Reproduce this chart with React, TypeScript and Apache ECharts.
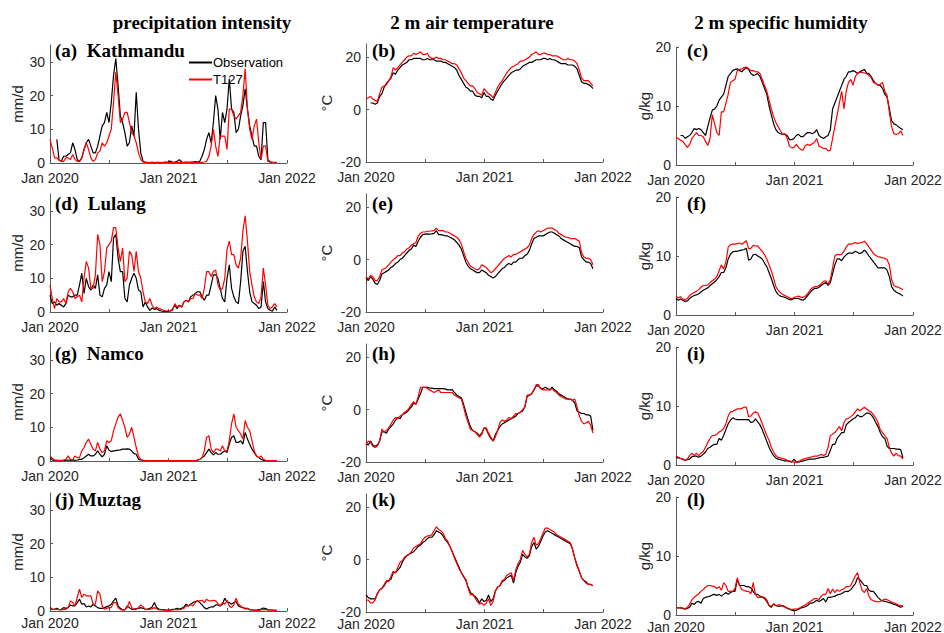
import React, { useEffect, useRef } from 'react';
import * as echarts from 'echarts';

// ---- sampling grid: one value every 7 days from 1 Jan 2020 ----
const DAY_STEP = 7;
const xTickDays = [0, 182, 366, 547, 731];
const xLabelDays = [0, 366, 731];
const xTickLabels = ['Jan 2020', 'Jan 2021', 'Jan 2022'];

const columnTitles = ['precipitation intensity', '2 m air temperature', '2 m specific humidity'];
const yNames = ['mm/d', '°C', 'g/kg'];
const yRanges = [[0, 35], [-20, 25], [0, 20]];
const yTickValues = [[0, 10, 20, 30], [-20, 0, 20], [0, 10, 20]];
const panelLabels = [
  '(a)  Kathmandu', '(b)', '(c)',
  '(d)  Lulang', '(e)', '(f)',
  '(g)  Namco', '(h)', '(i)',
  '(j) Muztag', '(k)', '(l)',
];
const seriesNames = ['Observation', 'T127'];

// ---- Kathmandu ----
const kathPrecipObs = [
  null, null, null, 7, 0.8, 0.5, 2, 2, 2.5, 3,
  6, 4, 1, 0.5, 1.5, 4, 6, 7, 5, 3,
  3, 5, 8, 11, 12, 15, 12, 18, 26, 31,
  23, 14, 12, 9, 5, 6, 11, 8, 21, 10,
  3, 0.5, 0.2, 0.2, 0.1, 0.2, 0.1, 0.2, 0.2, 0.1,
  0.2, 0.3, 0.2, 0.6, 0.2, 0.3, 0.5, 1, 0.3, 0.2,
  0.3, 0.2, 0.3, 0.3, 0.4, 0.3, 0.5, 2, 4, 7,
  9, 6, 12, 20, 16, 7, 15, 12, 16, 25,
  16, 15, 9, 10, 14, 17, 22, 16, 11, 8,
  5, 5, 2, 1, 12, 12, 1, 0.3, 0.2, null,
  null,
];
const kathPrecipT127 = [
  7, 4.5, 1.5, 1.5, 0.8, 0.5, 0.5, 1.5, 1.5, 1,
  2.5, 1, 0.5, 0.5, 1.5, 4, 6, 4, 1.5, 0.5,
  1, 3, 3.5, 6, 5, 6, 8, 10, 18, 27,
  20, 12, 13, 15, 15, 12, 9, 8, 6, 3,
  1, 0.3, 0.2, 0.1, 0.1, 0.2, 0.1, 0.1, 0.1, 0.1,
  0.1, 0.2, 0.1, 0.1, 0.2, 0.1, 0.1, 0.2, 0.1, 0.1,
  0.1, 0.1, 0.1, 0.2, 0.1, 0.1, 0.1, 0.2, 0.3, 0.5,
  2, 5, 10, 5, 2, 8, 8, 8, 4, 16,
  16, 14, 13, 14, 15, 20, 28, 16, 10, 7,
  11, 13, 6, 1, 5, 5, 0.5, 0.3, 0.3, 0.2,
  0.2,
];
const kathTempObs = [
  null, null, 2.5, 2.5, 2, 2.5, 5, 6, 8.5, 10,
  11, 12, 14, 13.5, 15, 16, 17, 17.5, 18, 19,
  19, 19.5, 19.5, 19.5, 19.5, 19, 19, 19.5, 19, 19,
  19, 18.5, 18.5, 18.5, 18, 18, 17.5, 17, 16.5, 16,
  15, 13, 11.5, 10, 8.5, 8, 7, 7, 5.5, 5,
  5, 4.5, 6.5, 5, 5, 4, 3.5, 5.5, 7, 8.5,
  10, 11, 12, 13, 14, 14.5, 15, 15, 15.5, 16.5,
  17, 17.5, 18, 18, 18.5, 19, 19, 19, 19.5, 19.5,
  19, 19.5, 19, 19, 18.5, 18, 17.5, 17.5, 17.5, 17,
  17, 17, 16.5, 15.5, 13, 10.5, 10, 10, 9.5, 9,
  8,
];
const kathTempT127 = [
  4, 4.5, 5, 4, 3.5, 3, 6, 8.5, 9, 9.5,
  11, 12.5, 16, 15, 16, 17, 18, 19, 20, 20.5,
  20.5, 21.5, 21, 21.5, 22, 21, 21, 21.5, 20, 19.5,
  19.5, 20, 19.5, 19.5, 19, 19, 18.5, 18, 17.5, 17.5,
  17, 15.5, 14, 12, 11, 10, 9, 9, 8, 6.5,
  6, 5.5, 8, 7, 6, 5.5, 4.5, 6.5, 8.5, 10,
  11, 12.5, 14, 15, 16, 16.5, 17, 17.5, 18.5, 18.5,
  19, 19.5, 20, 21, 21.5, 22, 21, 21, 21.5, 21.5,
  21, 21, 20.5, 20.5, 20.5, 20, 19.5, 19, 19, 19.5,
  19, 19, 18.5, 17.5, 15, 12, 11, 11, 11, 10,
  9,
];
const kathHumObs = [
  null, null, 5, 5, 4.5, 4.8, 5, 5.5, 6.2, 6,
  6.2, 6, 5.5, 5, 6.5, 8, 9.3, 9.5, 10, 11,
  11.5, 12, 13.5, 15, 15.5, 16, 16.2, 16.3, 16, 15.8,
  16.2, 16.5, 16.2, 15.5, 15.2, 15.3, 15.5, 15, 14, 13,
  12, 10, 8.5, 7, 6, 5.5, 5.3, 5.2, 5.2, 5,
  4.3, 4.3, 4.5, 5, 5.2, 4.8, 4.8, 5.2, 5.5, 5.5,
  5.3, 5.5, 6, 5, 4.7, 4.5, 4.8, 5, 6, 9.5,
  10.5, 11.5, 12.5, 13.5, 14.5, 15, 15.8, 15.8, 16, 15.8,
  15.5, 15.8, 16, 16.2, 15.6, 15.5, 15, 14.3, 13.8, 13.6,
  13.5, 13, 12, 11.5, 9.5, 7.5, 7, 6.8, 6.5, 6.2,
  6,
];
const kathHumT127 = [
  4.6, 4.5, 4.2, 4, 3.5, 3, 3.5, 4.5, 5, 5.5,
  5, 5, 4.8, 4, 3.3, 4.5, 8.5, 7, 5.5, 5,
  9, 9, 10.5, 12, 14, 14.3, 14.5, 16, 16.2, 16.3,
  16.5, 16.6, 16.3, 16, 16, 15.8, 15.8, 15.5, 14.5, 13.5,
  12.5, 11, 9.5, 8.2, 7.2, 6.5, 5.8, 5.2, 5.3, 4.5,
  3.2, 2.9, 3, 3.5, 3, 2.6, 2.5, 3.3, 3.5, 3.3,
  3.6, 3.8, 4.5, 3.2, 3, 2.8, 2.8, 2.4, 2.5, 4.5,
  6.5, 8.5, 10.5, 12.5, 9.5, 12.5, 14, 14.5, 13.5, 15,
  15.5, 15.7, 15.7, 15.6, 15.5, 15.2, 14.8, 14, 13.8, 13.5,
  13.7, 14, 12.5, 11.8, 9, 6.5, 5.3, 5.2, 5.3, 5.8,
  5,
];

// ---- Lulang ----
const lulangPrecipObs = [
  5, 2.5, 3, 2, 2.5, 2, 1.5, 2.5, 5, 4.5,
  4.5, 5, 5, 8, 11.5, 5.5, 10, 7.5, 6.5, 8,
  7, 11, 5, 4.5, 7, 8, 12, 9, 22, 23,
  16, 12, 12, 4, 3, 8, 10, 11.5, 10, 6.5,
  6, 1.5, 3, 1.5, 0.5, 1.2, 0.8, 1, 0.5, 0.3,
  0.2, 0.2, 0.2, 0.3, 0.8, 2, 1, 2, 1.5, 3,
  3.5, 3, 4.5, 5, 5.5, 6, 6, 4.5, 3.5, 5,
  5, 8, 11, 11, 10, 7, 4, 3, 10, 14,
  7, 4.5, 3, 2.5, 9, 18, 19.5, 12, 6, 3,
  2.5, 2, 1, 1.5, 9, 3, 1, 0.5, 0.2, 1.5,
  0.5,
];
const lulangPrecipT127 = [
  8, 4, 1, 4, 3, 3, 4, 2.5, 6, 7,
  6, 4, 4.5, 5, 3, 10, 15, 13, 7, 7,
  11, 23, 20, 9, 12, 19, 20, 21, 25, 25,
  19, 15, 19, 9, 10, 18, 17, 12, 18, 12,
  10, 6, 3, 2.5, 4, 2, 1, 1.5, 1, 0.8,
  0.5, 0.3, 0.3, 0.3, 0.5, 2.5, 1.5, 2, 1.5, 3,
  3.5, 3, 4, 4, 5.5, 5, 5, 4, 7, 12,
  12, 10.5, 12, 12.5, 8, 6.5, 7, 10, 18.5, 21,
  17, 17, 14, 13, 16, 24, 28.5, 21, 12, 8,
  4.5, 3, 2.5, 4.5, 13, 8, 2, 1, 1.5, 2.5,
  1.5,
];
const lulangTempObs = [
  -7, -8, -6.5, -7.5, -9, -9.5, -8, -5.5, -5, -4.5,
  -4, -3, -2.5, -1.5, -1, 0, 0.5, 1.5, 2.5, 3.5,
  4, 5.5, 5, 7, 8.5, 9.5, 9.7, 9.8, 9.7, 9.8,
  10, 11, 9.5, 9.5, 9.3, 9, 9, 8.5, 8, 7.5,
  6.5, 5.5, 4, 1.5, -1, -2.5, -3.5, -4, -4.5, -5,
  -5, -4, -4.5, -5, -6, -6.5, -7, -6.5, -5.5, -4.5,
  -3.5, -3, -2, -1.5, -2, -1, -1, 0, 0.5, 0.5,
  1.5, 2, 3.5, 6, 8, 8.5, 9, 9, 9, 9.5,
  10, 10.5, 10.5, 10, 9.5, 9, 8, 7.5, 7, 6.5,
  6, 5.5, 5, 5, 4.5, 1, 0, -1, -1, -1.5,
  -3.5,
];
const lulangTempT127 = [
  -6.5, -7.5, -6, -6.5, -8, -8, -6.5, -4, -3.5, -3,
  -2, -1, 0, 0.5, 1.5, 1.5, 2.5, 3, 4, 4.5,
  5.5, 6, 6.5, 9, 10, 10.5, 10.5, 10.8, 10.8, 11,
  11, 12, 11, 11, 11, 10.5, 10.5, 10, 9.5, 9,
  8.5, 7.5, 6, 3, 0.5, -1, -2.5, -3, -3.5, -4,
  -3.5, -2, -2.5, -3, -4, -5, -4.5, -3.5, -2.5, -1.5,
  -0.5, 0.5, 1, 1.5, 1, 2, 2, 2.5, 3, 3.5,
  4, 4.5, 5.5, 8, 9.5, 10.5, 11, 10.5, 11, 11.5,
  12, 12, 12, 11.5, 11, 10, 9.5, 9, 8.5, 8.5,
  8, 8, 8, 7.5, 7, 2.5, 1, 0.5, 0.5, 0,
  -2,
];
const lulangHumObs = [
  2.8, 2.5, 2.7, 2.5, 2.3, 2.4, 2.8, 3.1, 3.3, 3.4,
  3.6, 3.9, 4.2, 4.4, 4.6, 5, 5.3, 5.6, 6, 6.5,
  7.2, 7.2, 8, 9.5, 10.3, 10.7, 10.8, 10.8, 10.9, 11,
  11.1, 11.3, 9.3, 9.5, 10.2, 10.3, 10, 9.8, 9.5, 8.8,
  8.2, 7.2, 6.2, 5, 4, 3.5, 3.2, 3.1, 3, 2.8,
  2.6, 2.6, 2.8, 2.8, 2.8, 2.6, 2.5, 2.8, 3.3, 3.8,
  4.2, 4.5, 4.5, 4.7, 5, 5.3, 5.5, 5, 5.5, 7,
  8.5, 9.5, 9.5, 9.2, 9.8, 10.2, 10.5, 10.5, 10.5, 10.8,
  10.6, 10.4, 10.6, 11, 10.6, 10, 9.5, 9, 8.5, 8,
  8, 8, 8, 7.6, 6.5, 4.8, 4.2, 3.9, 3.7, 3.5,
  3.2,
];
const lulangHumT127 = [
  3.2, 2.9, 3.1, 2.7, 2.6, 2.8, 3.3, 3.6, 3.8, 4,
  4.3, 4.7, 5, 5, 5.1, 5.5, 5.8, 6.1, 6.5, 7.5,
  8.5, 7.8, 9, 11.5, 11.9, 12, 12, 12.1, 12.2, 12,
  12.3, 12.6, 11.2, 11.3, 11.8, 11.7, 11.7, 11.2, 10.8, 10.2,
  9.5, 8.5, 7.5, 6.2, 4.8, 4.2, 3.8, 3.5, 3.3, 3.1,
  2.9, 2.7, 3, 3.1, 3.2, 3, 3, 3.2, 3.6, 4.2,
  4.6, 4.8, 4.8, 5, 5.3, 5.7, 5.8, 5.2, 6, 8,
  10, 10.3, 10.2, 10.3, 10.8, 11.5, 12, 12, 12.1, 12.3,
  12.1, 12.2, 12.3, 12.5, 12.1, 11.5, 11, 10.4, 10.1, 9.9,
  9.8, 9.7, 9.6, 9.4, 8.5, 6, 5, 4.8, 4.7, 4.5,
  4.3,
];

// ---- Namco ----
const namcoPrecipObs = [
  1, 0.3, 0.2, 0.2, 0.1, 0.1, 0.2, 0.2, 0.3, 0.2,
  0.3, 0.2, 0.3, 0.5, 0.5, 1, 1.5, 2, 1.5, 1.5,
  2, 3, 2, 1.2, 2, 4.5, 3.2, 2.8, 3, 3.1,
  3.2, 3.3, 3.5, 3.5, 3.6, 3.5, 3, 2.2, 2, 0.5,
  0.3, 0.2, 0.1, 0.1, 0.1, 0.1, 0.1, 0.1, 0.1, 0.1,
  0.1, 0.1, 0.1, 0.1, 0.1, 0.1, 0.1, 0.1, 0.1, 0.1,
  0.1, 0.1, 0.1, 0.1, 0.1, 0.2, 0.5, 1, 1.5, 2.5,
  3.5, 2.5, 1.8, 2.5, 2, 2, 2.5, 3, 2.5, 5,
  7, 7.5, 5.5, 5.5, 6, 5, 8.5, 6.5, 5, 3.5,
  2.5, 1.5, 1, 0.5, 0.2, 0.1, 0.1, 0.1, 0.1, 0.1,
  0.1,
];
const namcoPrecipT127 = [
  1.5, 0.8, 0.3, 0.2, 0.2, 0.2, 0.2, 0.5, 1.5, 0.5,
  0.3, 1.5, 1, 1, 3, 4, 5.5, 6.5, 5, 3.5,
  3, 5.5, 3.5, 2.5, 3, 6, 5.5, 6, 9, 11,
  13, 14, 12, 10, 7, 8, 10, 7, 4, 1.5,
  0.4, 0.2, 0.1, 0.1, 0.1, 0.1, 0.1, 0.1, 0.1, 0.1,
  0.1, 0.1, 0.1, 0.1, 0.1, 0.1, 0.1, 0.1, 0.1, 0.1,
  0.1, 0.1, 0.1, 0.1, 0.1, 0.3, 0.5, 1, 3, 7,
  7.5, 3.5, 2.5, 3.5, 3.5, 3, 4.5, 3, 3, 6,
  11, 14, 10, 9, 8, 6.5, 12, 10, 9, 6,
  3, 1.5, 1, 1.5, 0.5, 0.2, 0.1, 0.1, 0.1, 0.1,
  0.1,
];
const namcoTempObs = [
  -13, -13.5, -12, -13.5, -14, -13.5, -12, -8.5, -8.5, -9,
  -7.5, -6.5, -5.5, -4, -3, -3.5, -2, -1.5, -1, 0,
  1, 2.5, 2, 4, 6, 8.5, 8.5, 8.5, 8.3, 8.2,
  8, 8, 8, 8, 8, 7.8, 7.5, 7.5, 7.6, 6.5,
  5.5, 5, 4.5, 2, -1, -4, -6.5, -8, -8.5, -9,
  -10, -9, -7, -7.5, -9.5, -11, -12, -9.5, -8, -6.5,
  -5.5, -5, -4.5, -4, -3.5, -3, -2.5, -1.5, -1, -0.5,
  1, 5, 5.5, 6, 7.5, 9, 9, 8, 8, 8.5,
  8, 7.5, 8.5, 7.5, 7, 6, 5.5, 5, 4.5, 4,
  4, 3.5, 2.5, -0.5, -1, -1.5, -1.5, -2, -2, -2.5,
  -8,
];
const namcoTempT127 = [
  -13.5, -12, -12.5, -14, -14.5, -14, -12, -7.5, -8.5, -8,
  -7, -5.5, -4, -3, -3.5, -2.5, -2, -1, -0.5, 0.5,
  2, 3, 2, 5, 8.5, 8.5, 8.5, 8, 7.5, 7,
  6.5, 7, 7.5, 6.5, 6.5, 6.5, 6.5, 6.5, 6.5, 5.5,
  5, 4.5, 4, 1, -2.5, -5, -7.5, -8, -8.5, -9.5,
  -10.5, -9.5, -7, -7, -9, -10.5, -12, -10.5, -8, -5,
  -4, -4.5, -4, -3, -3.5, -2.5, -1.5, -1.5, -1, 0,
  1, 5.5, 5.5, 6, 7.5, 9.5, 9.5, 8, 7.5, 7.5,
  7.5, 7.5, 8, 7, 6.5, 5.5, 5, 4.5, 4, 4,
  4, 3.5, 4, 1, -2.5, -4.5, -5.5, -5, -4.5, -6,
  -9,
];
const namcoHumObs = [
  1.3, 1.2, 1.1, 1, 0.8, 0.9, 1, 1.4, 1.5, 1.5,
  1.3, 1.5, 1.8, 2.2, 2.8, 3, 3.3, 3.5, 3.5, 4.5,
  4.2, 5, 6, 7, 7.6, 8, 7.8, 7.7, 7.7, 7.7,
  7.7, 7.7, 7.7, 7.2, 7.3, 7.8, 7.3, 6.8, 6, 5,
  4, 3, 2.2, 1.6, 1.2, 1, 0.9, 0.8, 0.7, 0.7,
  0.6, 0.5, 1, 0.5, 0.5, 0.6, 0.7, 0.8, 0.9, 1,
  1, 1, 1.1, 1.2, 1.3, 1.3, 1.4, 1.5, 2.5, 3.5,
  3.5, 4.5, 5, 5.5, 5.5, 6.8, 7.2, 7.5, 7.8, 8,
  8.5, 8.2, 8.2, 8.5, 8.8, 8.8, 8.5, 8, 7.2, 6.5,
  5.5, 4.8, 4.5, 3.2, 2.8, 2.8, 2.8, 2.7, 2.7, 2.6,
  1.2,
];
const namcoHumT127 = [
  1.5, 1.3, 1.1, 1, 0.8, 1, 1.6, 2, 1.6, 2,
  1.6, 2, 2.3, 3, 3.8, 4.5, 5, 5, 5.2, 5.6,
  5.8, 6.2, 7, 8.3, 9, 9.1, 9.3, 9.5, 9.5, 9.6,
  9.8, 9.8, 8.2, 8.3, 8.8, 9, 8.8, 8, 7, 6,
  5, 4.2, 3, 2.2, 1.6, 1.3, 1.2, 1.1, 1, 0.8,
  0.7, 0.6, 0.5, 0.5, 0.6, 0.8, 1, 1.1, 1.2, 1.3,
  1.4, 1.5, 1.5, 1.6, 1.8, 1.6, 1.8, 3, 5, 5.2,
  5.5, 6, 6.5, 5.8, 7.2, 7.8, 7.9, 8.2, 8.5, 9,
  9.5, 9.2, 9.5, 9.8, 9.5, 9.2, 9, 8.5, 8, 7.2,
  6, 5.5, 5, 4.5, 3, 2, 1.5, 2, 1.6, 1.5,
  1,
];

// ---- Muztag ----
const muztagPrecipObs = [
  1, 0.6, 0.5, 0.8, 0.4, 0.5, 1, 0.8, 1, 1.8,
  1.5, 1.5, 2.5, 3.5, 2, 2.2, 1.2, 1.5, 1.2, 2,
  1.5, 1, 0.8, 0.8, 1, 1.3, 1.5, 2, 3, 3.8,
  1.5, 0.8, 0.4, 0.3, 1.5, 1, 0.5, 0.5, 0.7, 0.8,
  1, 0.8, 0.5, 0.6, 0.8, 1.2, 2.5, 1, 0.6, 0.4,
  0.4, 0.3, 0.3, 0.3, 0.5, 0.6, 0.8, 0.6, 0.8, 1.2,
  2, 1.5, 2, 2.5, 2.8, 3, 2.5, 1.8, 1, 0.6,
  1, 1.2, 1.2, 1.8, 1.8, 1.5, 2, 3.8, 2.7, 2.5,
  2, 2.5, 2.8, 1.5, 1.2, 1, 0.8, 0.8, 0.4, 0.3,
  0.3, 0.3, 0.4, 0.6, 0.9, 0.7, 0.4, 0.3, 0.3, 0.2,
  0.2,
];
const muztagPrecipT127 = [
  0.8, 0.4, 0.5, 0.5, 0.4, 0.3, 0.5, 0.5, 1, 3,
  2.5, 1.5, 4, 6.5, 4, 5, 4.5, 4.5, 4.5, 2,
  2, 6, 5, 1.5, 0.5, 0.8, 1, 1, 2.5, 2.5,
  1, 0.4, 0.3, 0.4, 1, 2.8, 1, 0.5, 0.5, 1,
  1.8, 1.3, 0.5, 0.5, 0.5, 0.7, 1, 0.6, 0.3, 0.3,
  0.3, 0.2, 0.2, 0.2, 0.3, 0.4, 0.4, 0.4, 0.5, 0.8,
  1.5, 1.5, 2, 1.5, 2.5, 3, 3, 3.2, 2.5, 3.5,
  3, 3, 3.2, 3, 2.2, 1.5, 2.5, 2, 3.2, 1.5,
  1, 1.8, 3.8, 2, 1.5, 1, 0.6, 0.7, 0.4, 0.3,
  0.2, 0.1, 0.2, 0.3, 0.5, 0.4, 0.3, 0.3, 0.2, 0.2,
  0.2,
];
const muztagTempObs = [
  -13.5, -14.5, -15, -15, -15, -13, -11.5, -11, -10, -8.5,
  -8, -7.5, -5, -5, -4, -3, -1, 0.5, 1.5, 2,
  2.5, 3, 4, 5, 5.5, 6.5, 7, 8, 8.5, 8.5,
  9.5, 11, 10.5, 10, 9, 7.5, 6.5, 5, 3, 1,
  -1, -3, -5, -6.5, -8, -10.5, -12.5, -13.5, -14, -15,
  -16.5, -15, -16, -15.5, -13.5, -16, -15, -12, -10.5, -10,
  -8.5, -8, -7, -6.5, -6, -9, -5, -2.5, -1, 2,
  1, 0.5, 1.5, 5, 6.5, 4, 5, 7, 9, 10.5,
  11, 10.5, 10, 9.5, 9, 8.5, 8, 7.5, 7, 6.5,
  6, 4, 0.5, -2.5, -4.5, -7, -8, -8.5, -9.5, -9.5,
  -10,
];
const muztagTempT127 = [
  -15.5, -15.5, -16.5, -16.5, -15.5, -13, -11.5, -11, -9.5, -8,
  -8.5, -6.5, -4.5, -5, -3, -1, -0.5, 1, 1.5, 2,
  3, 4.5, 5, 5.5, 6, 7.5, 8.5, 9, 9, 9.5,
  11, 12.5, 11.5, 11, 10, 8, 7, 5, 3, 0.5,
  -1.5, -3.5, -5, -6.5, -7.5, -11, -13.5, -13, -14.5, -16,
  -17, -16.5, -17.5, -16.5, -15, -17.5, -16, -12, -10.5, -10,
  -8, -7.5, -6, -5.5, -5, -8, -4, -1.5, 0, 3.5,
  2, 1, 2, 6.5, 8.5, 5.5, 6, 8, 10, 12,
  12, 11.5, 11, 10.5, 9.5, 9, 8.5, 8, 7.5, 7,
  6.5, 4, 0.5, -2, -4.5, -7, -8, -9, -9.5, -9.5,
  -10,
];
const muztagHumObs = [
  1.3, 1.2, 1.2, 1.1, 1, 1.1, 1.3, 2, 1.8, 2.2,
  2.3, 2, 2.8, 3, 3.1, 3.2, 3.4, 3.5, 3.3, 3.5,
  3.2, 3.5, 3.8, 3.5, 3.8, 4, 4, 6, 5, 5,
  5, 4.8, 4.8, 4.6, 4, 3.5, 3.5, 3.2, 3, 2.8,
  2.3, 1.6, 1.3, 1.9, 1.6, 1.5, 1.5, 1.6, 1.4, 1.2,
  1, 0.8, 0.7, 0.8, 1, 1.2, 1.3, 1.4, 1.6, 2,
  2, 2.2, 2.5, 2.3, 2.5, 2.8, 2.2, 3, 3, 3.1,
  3.2, 3.4, 3.5, 3.6, 3.9, 4, 4, 4.3, 4.8, 5.3,
  6.3, 6, 5.5, 5, 5, 4.2, 4, 4, 3.5, 3,
  2.6, 2.4, 2.3, 2.2, 2.1, 2, 1.8, 1.7, 1.5, 1.3,
  1.5,
];
const muztagHumT127 = [
  1.3, 1.2, 1.3, 1.2, 1, 1.3, 1.8, 2.6, 3, 3.3,
  3.6, 4, 4.3, 4.7, 5, 5, 4.9, 4.8, 4.5, 4.8,
  4.2, 5.5, 5, 4, 4, 4, 4.5, 6.3, 5, 4.3,
  4.2, 4, 4, 3.6, 5.5, 3.5, 3, 3, 3.1, 3,
  2.6, 1.6, 1.5, 1.8, 1.6, 1.7, 1.7, 1.5, 1.3, 1.1,
  1, 0.9, 1, 1, 1.1, 1.3, 1.5, 1.7, 2, 2.3,
  2.5, 2.8, 2.8, 2.6, 3.2, 3.5, 3.5, 4.5, 3.6, 4.4,
  3.8, 4.3, 4, 4.3, 4.4, 4.8, 4.8, 5, 5.8, 6.6,
  7.2, 5.5, 4.2, 3.8, 4.5, 3.2, 2.6, 2.4, 2.3, 2.2,
  2.3, 2.5, 2.7, 2.6, 2.4, 2.2, 2, 1.9, 1.7, 1.6,
  1.5,
];

const panelData = [
  [kathPrecipObs, kathPrecipT127], [kathTempObs, kathTempT127], [kathHumObs, kathHumT127],
  [lulangPrecipObs, lulangPrecipT127], [lulangTempObs, lulangTempT127], [lulangHumObs, lulangHumT127],
  [namcoPrecipObs, namcoPrecipT127], [namcoTempObs, namcoTempT127], [namcoHumObs, namcoHumT127],
  [muztagPrecipObs, muztagPrecipT127], [muztagTempObs, muztagTempT127], [muztagHumObs, muztagHumT127],
];

// ---- layout (pixels) ----
const W = 944;
const H = 633;
const colLeft = [50, 366, 676];
const colTop = [
  [45, 194, 343, 493],
  [44, 194, 344, 494],
  [47, 197, 347, 497],
];
const plotW = 237;
const plotH = 118;
const nameGaps = [25, 32, 23];
const titleX = [202, 472, 781];
const labelX = [55, 372, 687];
const labelY = [52, 205, 355, 501];
const xLabelMargin = [8, 8, 8, 5];

const SANS = '"Liberation Sans", Arial, Helvetica, sans-serif';
const SERIF = '"Liberation Serif", "Times New Roman", serif';
const AXIS_COLOR = '#5a5a5a';
const TEXT_COLOR = '#262626';

function buildOption() {
  const grid: any[] = [];
  const xAxis: any[] = [];
  const yAxis: any[] = [];
  const series: any[] = [];
  const graphic: any[] = [];

  for (let r = 0; r < 4; r++) {
    for (let c = 0; c < 3; c++) {
      const k = r * 3 + c;
      grid.push({
        left: colLeft[c],
        top: colTop[c][r],
        width: plotW,
        height: plotH,
        containLabel: false,
        outerBoundsMode: 'none',
      });
      xAxis.push({
        gridIndex: k,
        type: 'value',
        min: 0,
        max: 731,
        axisLine: { show: true, onZero: false, lineStyle: { color: AXIS_COLOR, width: 1 } },
        axisTick: {
          show: true,
          inside: true,
          length: 3,
          customValues: xTickDays,
          lineStyle: { color: AXIS_COLOR, width: 1 },
        },
        axisLabel: {
          customValues: xLabelDays,
          formatter: (v: number) => {
            const idx = xLabelDays.indexOf(Math.round(v));
            return idx >= 0 ? xTickLabels[idx] : '';
          },
          fontSize: 14,
          fontFamily: SANS,
          color: TEXT_COLOR,
          margin: xLabelMargin[r],
          hideOverlap: false,
        },
        splitLine: { show: false },
      });
      yAxis.push({
        gridIndex: k,
        type: 'value',
        min: yRanges[c][0],
        max: yRanges[c][1],
        axisLine: { show: true, onZero: false, lineStyle: { color: AXIS_COLOR, width: 1 } },
        axisTick: {
          show: true,
          inside: true,
          length: 3,
          customValues: yTickValues[c],
          lineStyle: { color: AXIS_COLOR, width: 1 },
        },
        axisLabel: {
          customValues: yTickValues[c],
          fontSize: 14,
          fontFamily: SANS,
          color: TEXT_COLOR,
          margin: 5,
        },
        splitLine: { show: false },
        name: yNames[c],
        nameLocation: 'middle',
        nameRotate: 90,
        nameGap: nameGaps[c],
        nameTextStyle: { fontSize: 15, fontFamily: SANS, color: TEXT_COLOR },
      });
      const [obs, mod] = panelData[k];
      series.push({
        type: 'line',
        name: seriesNames[0],
        xAxisIndex: k,
        yAxisIndex: k,
        data: obs.map((v, i) => [i * DAY_STEP, v]),
        showSymbol: false,
        symbol: 'none',
        connectNulls: false,
        lineStyle: { color: '#000000', width: 1.2 },
        itemStyle: { color: '#000000' },
        z: 2,
      });
      series.push({
        type: 'line',
        name: seriesNames[1],
        xAxisIndex: k,
        yAxisIndex: k,
        data: mod.map((v, i) => [i * DAY_STEP, v]),
        showSymbol: false,
        symbol: 'none',
        connectNulls: false,
        lineStyle: { color: '#ff0000', width: 1.2 },
        itemStyle: { color: '#ff0000' },
        z: 3,
      });
      graphic.push({
        type: 'text',
        left: labelX[c],
        top: labelY[r] - 11,
        style: {
          text: panelLabels[k],
          font: `bold 19px ${SERIF}`,
          fill: '#000000',
        },
        z: 10,
      });
    }
  }

  for (let c = 0; c < 3; c++) {
    graphic.push({
      type: 'text',
      x: titleX[c],
      y: 22,
      style: {
        text: columnTitles[c],
        font: `bold 19px ${SERIF}`,
        fill: '#000000',
        textAlign: 'center',
        align: 'center',
        textVerticalAlign: 'middle',
        verticalAlign: 'middle',
      },
      z: 10,
    });
  }

  return {
    animation: false,
    backgroundColor: '#ffffff',
    grid,
    xAxis,
    yAxis,
    series,
    graphic,
    legend: {
      data: seriesNames,
      orient: 'vertical',
      left: 184,
      top: 51,
      icon: 'rect',
      itemWidth: 23,
      itemHeight: 2,
      itemGap: 4,
      selectedMode: false,
      textStyle: { fontSize: 13, fontFamily: SANS, color: '#000000', padding: [0, 0, 0, -4] },
    },
  };
}

export default function App() {
  const ref = useRef<HTMLDivElement>(null);
  useEffect(() => {
    document.body.style.margin = '0';
    if (!ref.current) return;
    const chart = echarts.init(ref.current, undefined, { renderer: 'svg' });
    chart.setOption(buildOption() as any);
    return () => chart.dispose();
  }, []);
  return <div ref={ref} style={{ width: W, height: H }} />;
}
